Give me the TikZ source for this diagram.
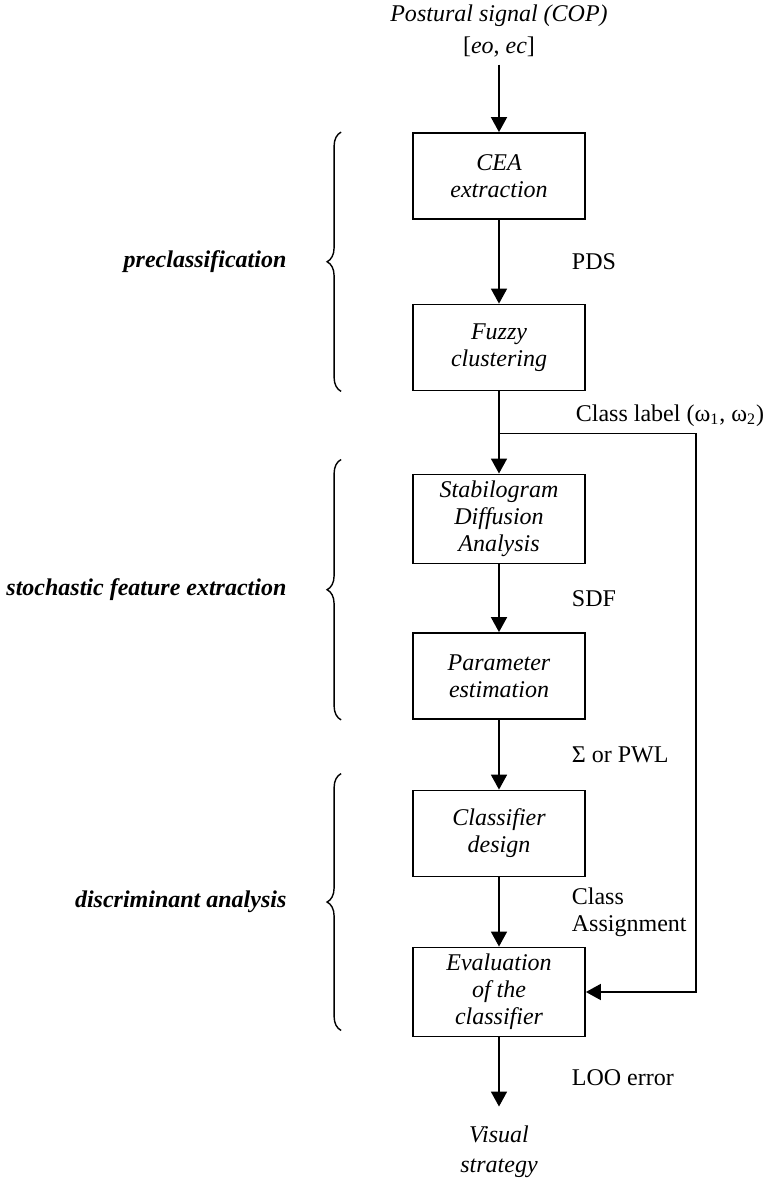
\documentclass[tikz,border=0pt]{standalone}
\usepackage{fontspec}
\setmainfont{Liberation Serif}
\usetikzlibrary{arrows.meta,positioning,decorations.pathreplacing}

\begin{document}
\begin{tikzpicture}[->,>={Triangle[length=7.5pt,width=8pt]},line width=0.9pt,node distance=79pt,on grid,
    font=\fontsize{12}{13.5}\selectfont]

    \tikzstyle{block}=[draw,rectangle,minimum width=86pt,minimum height=43pt,align=center,font=\fontsize{12}{13.5}\selectfont\itshape]
    \tikzstyle{lbl}=[anchor=west,xshift=36pt,inner sep=0pt,align=left]
    \tikzstyle{phase}=[-,decorate,decoration={brace,amplitude=7pt},line width=0.7pt]
    \tikzstyle{phaselbl}=[anchor=east,xshift=-27pt,inner sep=0pt,font=\fontsize{12}{13.5}\selectfont\bfseries\itshape]

    \useasboundingbox (0,0) rectangle (382pt,-589pt);

    \node[block] (cea) at (249.5pt,-88pt)   {CEA\\extraction};
    \node[align=center,font=\fontsize{12}{16}\selectfont] (input) [above=72.5pt of cea]
        {\textit{Postural signal (COP)}\\{[}\textit{eo}, \textit{ec}{]}};
    \node[block] (fuzzy) [below=85.75pt of cea]   {Fuzzy\\clustering};
    \node[block] (stab)  [below=85.75pt of fuzzy] {Stabilogram\\Diffusion\\Analysis};
    \node[block] (param) [below=78.5pt of stab]   {Parameter\\estimation};
    \node[block] (clsf)  [below=78.75pt of param] {Classifier\\design};
    \node[block] (eval)  [below=79.25pt of clsf]  {Evaluation\\of the\\classifier};
    \node[align=center,font=\fontsize{12}{15}\selectfont\itshape] (visual) [below=80pt of eval] {Visual\\strategy};

    \path (input) edge                                              (cea)
          (cea)   edge              node[lbl] {PDS}                  (fuzzy)
          (fuzzy) edge                                              (stab)
          (stab)  edge              node[lbl] {SDF}                  (param)
          (param) edge              node[lbl] {Σ or PWL}             (clsf)
          (clsf)  edge              node[lbl] {Class\\Assignment}    (eval)
          (eval)  edge [shorten >=6pt] node[lbl] {LOO error}         (visual);

    \coordinate (jn)   at ([yshift=-21pt]fuzzy.south);
    \coordinate (back) at ([xshift=98.5pt]jn);
    \node[anchor=west,inner sep=0pt] (clslbl) at ([xshift=38pt,yshift=9pt]jn)
        {Class label (ω\textsubscript{1}, ω\textsubscript{2})};
    \draw (jn) -- (back) |- (eval.east);

    \draw[phase] ([xshift=-35.5pt]fuzzy.south west) -- node[phaselbl] {preclassification} ([xshift=-35.5pt]cea.north west);
    \draw[phase] ([xshift=-35.5pt]param.south west) -- node[phaselbl] {stochastic feature extraction} ([xshift=-35.5pt,yshift=7pt]stab.north west);
    \draw[phase] ([xshift=-35.5pt,yshift=3.5pt]eval.south west) -- node[phaselbl] {discriminant analysis} ([xshift=-35.5pt,yshift=8pt]clsf.north west);
\end{tikzpicture}
\end{document}
